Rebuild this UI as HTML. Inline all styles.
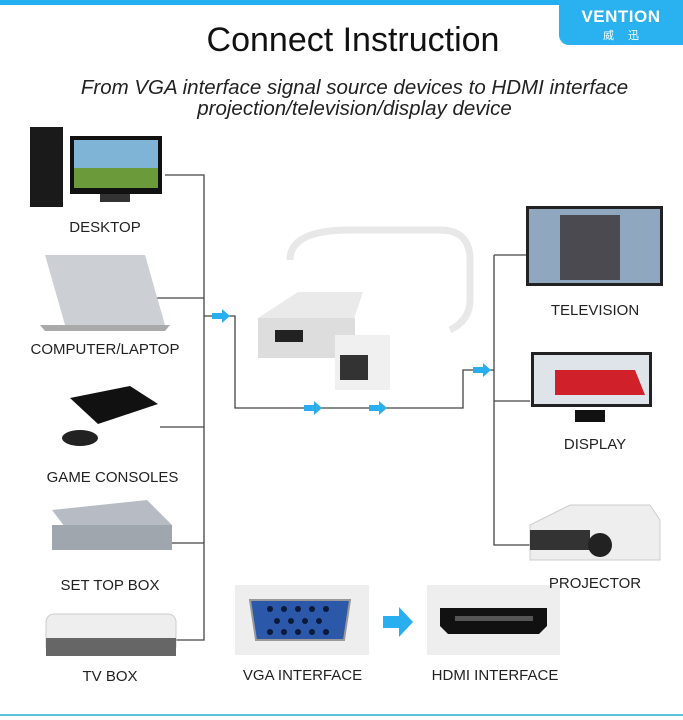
<!DOCTYPE html>
<html><head><meta charset="utf-8"><style>
body{margin:0;width:683px;height:720px;overflow:hidden;background:#fff;font-family:"Liberation Sans","Noto Sans CJK SC",sans-serif;position:relative}
.t{position:absolute;font-size:15px;color:#222;text-align:center;white-space:nowrap}
</style></head><body>
<div style="position:absolute;left:0;top:0;width:683px;height:5px;background:#23aef0"></div>
<div style="position:absolute;left:559px;top:0;width:124px;height:45px;background:#29b1f0;border-bottom-left-radius:10px;color:#fff;text-align:center">
<div style="font-weight:bold;font-size:17px;margin-top:7px;letter-spacing:0.5px">VENTION</div>
<div style="font-size:11px;letter-spacing:14px;margin-left:14px">威迅</div></div>
<div class="t" style="left:0;width:706px;top:21px;font-size:34px;color:#111">Connect Instruction</div>
<div class="t" style="left:0;width:709px;top:77px;font-size:20.5px;font-style:italic;line-height:21px;color:#222">From VGA interface signal source devices to HDMI interface<br>projection/television/display device</div>

<svg width="683" height="720" style="position:absolute;left:0;top:0">
<g stroke="#444" stroke-width="1.3" fill="none">
<path d="M165 175H204V640H170M150 298H204M160 427H204M168 543H204M204 316H235V408H463V370H494M494 255H530M494 255V545H530M494 401H530"/>
</g>
<g fill="#29aef0">
<path d="M212 313h10v-4l8 7l-8 7v-4h-10z"/><path d="M304 405h10v-4l8 7l-8 7v-4h-10z"/><path d="M369 405h10v-4l8 7l-8 7v-4h-10z"/><path d="M473 367h10v-4l8 7l-8 7v-4h-10z"/>
<path d="M383 616h16v-9l14 15l-14 15v-9h-16z"/>
</g>
<rect x="30" y="127" width="33" height="80" fill="#1a1a1a"/><rect x="70" y="136" width="92" height="58" fill="#111"/><rect x="74" y="140" width="84" height="48" fill="#7fb4d6"/><rect x="74" y="168" width="84" height="20" fill="#6a9a3a"/><rect x="100" y="194" width="30" height="8" fill="#333"/>
<path d="M45 255l100 0l20 70l-100 0z" fill="#ccd0d4"/><path d="M40 325h130l-5 6h-120z" fill="#aaa"/>
<path d="M70 398l60-12l28 18l-60 20z" fill="#111"/><ellipse cx="80" cy="438" rx="18" ry="8" fill="#222"/>
<path d="M52 510l95-10l25 25l-95 18z" fill="#b7bcc4"/><rect x="52" y="525" width="120" height="25" fill="#a0a6ae"/>
<rect x="46" y="614" width="130" height="40" rx="8" fill="#eee" stroke="#ccc"/><rect x="46" y="638" width="130" height="18" fill="#666"/>
<path d="M290 260q0-30 60-30h90q30 0 30 30v40q0 20-20 30" stroke="#e8e8e8" stroke-width="7" fill="none"/>
<path d="M258 318l40-26h65l-10 30z" fill="#eaeaea"/><rect x="258" y="318" width="97" height="40" fill="#ddd"/><rect x="275" y="330" width="28" height="12" fill="#222"/>
<rect x="335" y="335" width="55" height="55" fill="#f0f0f0"/><rect x="340" y="355" width="28" height="25" fill="#333"/>
<rect x="526" y="206" width="137" height="80" fill="#222"/><rect x="529" y="209" width="131" height="74" fill="#8fa8c0"/><rect x="560" y="215" width="60" height="65" fill="#4a4a50"/>
<rect x="531" y="352" width="121" height="55" fill="#222"/><rect x="534" y="355" width="115" height="49" fill="#dfe4ea"/><path d="M555 370h80l10 25h-90z" fill="#d0202a"/><rect x="575" y="410" width="30" height="12" fill="#111"/>
<path d="M530 525l40-20h80l10 15v40h-130z" fill="#eee" stroke="#ccc"/><rect x="530" y="530" width="60" height="20" fill="#333"/><circle cx="600" cy="545" r="12" fill="#222"/>
<rect x="235" y="585" width="134" height="70" fill="#eeeeee"/><path d="M250 600h100l-6 40h-88z" fill="#2b58a8" stroke="#999" stroke-width="2"/>
<g fill="#0a1a3a"><circle cx="270" cy="609" r="3"/><circle cx="284" cy="609" r="3"/><circle cx="298" cy="609" r="3"/><circle cx="312" cy="609" r="3"/><circle cx="326" cy="609" r="3"/><circle cx="277" cy="621" r="3"/><circle cx="291" cy="621" r="3"/><circle cx="305" cy="621" r="3"/><circle cx="319" cy="621" r="3"/><circle cx="270" cy="632" r="3"/><circle cx="284" cy="632" r="3"/><circle cx="298" cy="632" r="3"/><circle cx="312" cy="632" r="3"/><circle cx="326" cy="632" r="3"/></g>
<rect x="427" y="585" width="133" height="70" fill="#eeeeee"/><path d="M440 608h107v18l-8 8h-91l-8-8z" fill="#111"/><rect x="455" y="616" width="78" height="5" fill="#555"/>
<rect x="0" y="714" width="683" height="2" fill="#5ac4d8"/>
</svg>

<div class="t" style="left:40px;width:130px;top:219px">DESKTOP</div>
<div class="t" style="left:15px;width:180px;top:341px">COMPUTER/LAPTOP</div>
<div class="t" style="left:25px;width:175px;top:469px">GAME CONSOLES</div>
<div class="t" style="left:40px;width:140px;top:577px">SET TOP BOX</div>
<div class="t" style="left:40px;width:140px;top:668px">TV BOX</div>
<div class="t" style="left:520px;width:150px;top:302px">TELEVISION</div>
<div class="t" style="left:520px;width:150px;top:436px">DISPLAY</div>
<div class="t" style="left:520px;width:150px;top:575px">PROJECTOR</div>
<div class="t" style="left:225px;width:155px;top:667px">VGA INTERFACE</div>
<div class="t" style="left:415px;width:160px;top:667px">HDMI INTERFACE</div>
</body></html>
